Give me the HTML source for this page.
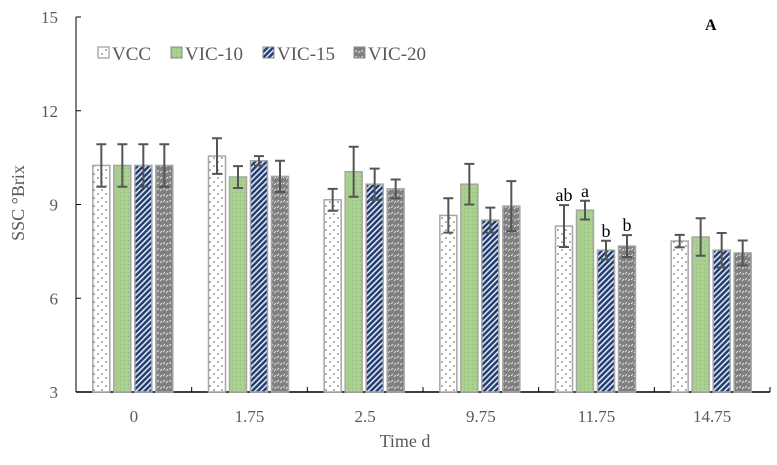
<!DOCTYPE html>
<html><head><meta charset="utf-8"><style>
body{margin:0;background:#fff}
svg text{font-family:"Liberation Serif",serif;fill:#595959}
</style></head><body>
<svg id="chart" width="777" height="460">
<defs>
<pattern id="pDots" width="8" height="8" patternUnits="userSpaceOnUse"><rect width="8" height="8" fill="#fff"/><circle cx="2" cy="2" r="0.8" fill="#555"/><circle cx="6" cy="6" r="0.8" fill="#555"/></pattern>
<pattern id="pGreen" width="4" height="4" patternUnits="userSpaceOnUse"><rect width="4" height="4" fill="#a9d08e"/><rect width="1" height="1" fill="#8fb878"/></pattern>
<pattern id="pBlue" width="4" height="4" patternUnits="userSpaceOnUse" patternTransform="rotate(45)"><rect width="4" height="4" fill="#1f3b70"/><rect width="1.6" height="4" fill="#dfe6f2"/></pattern>
<pattern id="pGray" width="6" height="6" patternUnits="userSpaceOnUse"><rect width="6" height="6" fill="#7f7f7f"/><line x1="1" y1="4" x2="3" y2="2" stroke="#ddd" stroke-width="1"/><line x1="4" y1="5" x2="6" y2="3" stroke="#ddd" stroke-width="1"/></pattern>
</defs>
<g id="axes"></g><g id="bars"></g>
<text x="705" y="30" font-size="16" font-weight="bold" style="fill:#000">A</text>
<text x="405" y="447" font-size="18" text-anchor="middle">Time d</text>
<text transform="translate(24,203) rotate(-90)" font-size="18" text-anchor="middle">SSC °Brix</text>
<g id="legend"></g>
</svg>
<script>
const categories=["0","1.75","2.5","9.75","11.75","14.75"];
const seriesNames=["VCC","VIC-10","VIC-15","VIC-20"];
const vcc=[10.25,10.55,9.15,8.65,8.31,7.83];
const vic10=[10.25,9.88,10.05,9.65,8.82,7.96];
const vic15=[10.25,10.4,9.65,8.5,7.54,7.54];
const vic20=[10.25,9.9,9.5,8.95,7.67,7.45];
const errVcc=[0.68,0.57,0.35,0.55,0.67,0.2];
const errVic10=[0.68,0.35,0.8,0.65,0.3,0.6];
const errVic15=[0.68,0.15,0.5,0.4,0.3,0.55];
const errVic20=[0.68,0.5,0.3,0.8,0.35,0.4];
const yTicks=[3,6,9,12,15];
const sigLabels=[[],[],[],[],["ab","a","b","b"],[]];
const series=[vcc,vic10,vic15,vic20], errs=[errVcc,errVic10,errVic15,errVic20];
const fills=["url(#pDots)","url(#pGreen)","url(#pBlue)","url(#pGray)"];
const NS="http://www.w3.org/2000/svg";
const L=76,R=770,T=17,B=392,yMin=3,yMax=15;
const y=v=>B-(v-yMin)/(yMax-yMin)*(B-T);
const band=(R-L)/categories.length;
const x=i=>L+band*(i+0.5);
function mk(tag,a,p){const e=document.createElementNS(NS,tag);for(const k in a)e.setAttribute(k,a[k]);p.appendChild(e);return e;}
const ax=document.getElementById('axes'),bg=document.getElementById('bars'),lg=document.getElementById('legend');
yTicks.forEach(t=>{
 const tk=mk('line',{x1:L,x2:L+5,y1:y(t),y2:y(t),stroke:'#000'},ax);
 
 
 const tx=mk('text',{x:58,y:y(t)+6,'font-size':17,'text-anchor':'end'},ax);tx.textContent=t;
 
 
});
const ya=mk('line',{x1:L,x2:L,y1:T,y2:B,stroke:'#000'},ax);


const xa=mk('line',{x1:L,x2:R,y1:B,y2:B,stroke:'#000','stroke-width':1.5},ax);


categories.forEach((c,i)=>{
 const tk=mk('line',{x1:L+band*(i+1),x2:L+band*(i+1),y1:B,y2:B-5,stroke:'#000'},ax);
 
 
 const tx=mk('text',{x:x(i),y:422,'font-size':17,'text-anchor':'middle'},ax);tx.textContent=c;
 
 
 series.forEach((s,j)=>{
  const bx=x(i)-41+j*21,w=17,top=y(s[i]);
  const r=mk('rect',{x:bx,y:top,width:w,height:B-top,fill:fills[j],stroke:'#a6a6a6','stroke-width':1.5},bg);
  
  
  const cx=bx+w/2,e1=y(s[i]+errs[j][i]),e2=y(s[i]-errs[j][i]);
  const eb=mk('path',{d:`M${cx} ${e1}V${e2}M${cx-5} ${e1}H${cx+5}M${cx-5} ${e2}H${cx+5}`,stroke:'#555','stroke-width':2,fill:'none'},bg);
  
  
  if(sigLabels[i][j]){const t=mk('text',{x:cx,y:e1-4,'font-size':18,'text-anchor':'middle',style:'fill:#000'},bg);t.textContent=sigLabels[i][j];
   
   }
 });
});
const lx=[98,171,263,354];
seriesNames.forEach((n,j)=>{
 const g=mk('g',{},lg);
 
 
 mk('rect',{x:lx[j],y:47,width:11,height:11,fill:fills[j],stroke:'#888'},g);
 const t=mk('text',{x:lx[j]+14,y:60,'font-size':19},g);t.textContent=n;
});
</script>
</body></html>
